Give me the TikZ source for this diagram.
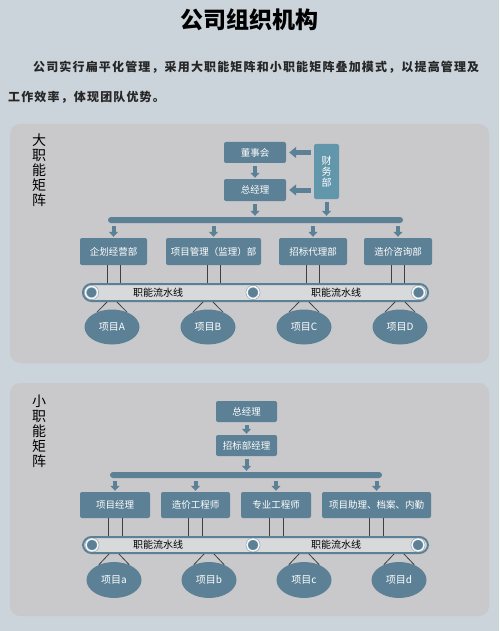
\documentclass[tikz,border=0pt]{standalone}
\usepackage{fontspec}
\setmainfont{Noto Sans CJK SC}
\usepackage{tikz}
\usetikzlibrary{calc, arrows.meta, shapes, positioning}
\definecolor{bgc}{RGB}{203, 212, 219}
\definecolor{panelc}{RGB}{201, 201, 203}
\definecolor{steel}{RGB}{92, 128, 149}
\definecolor{fincolor}{RGB}{98, 150, 171}
\definecolor{beltc}{RGB}{216, 217, 219}
\tikzset{
    titlenode/.style = {draw=none, fill=none, inner sep=0em, font=\fontsize{23}{26}\selectfont\bfseries},
    paranode/.style = {draw=none, fill=none, inner sep=0em, text=black!85,
      font=\fontsize{12}{14}\selectfont\bfseries\addfontfeature{LetterSpace=9.6}},
    sidelabel/.style = {draw=none, fill=none, inner sep=0em, align=center, font=\fontsize{14}{15}\selectfont},
    boxnode/.style = {draw=none, fill=steel, rectangle, rounded corners=2pt, text=white, inner sep=0em,
      minimum height=21pt, font=\fontsize{9.5}{11}\selectfont},
    finnode/.style = {draw=none, fill=fincolor, rectangle, rounded corners=2pt, text=white, inner sep=0em,
      minimum width=25pt, minimum height=55pt, align=center, font=\fontsize{10}{11}\selectfont},
    barnode/.style = {draw=none, fill=steel, rectangle, rounded corners=3pt, inner sep=0em, minimum height=6pt},
    beltnode/.style = {draw=steel, line width=2pt, fill=beltc, rectangle, rounded corners=8.5pt, inner sep=0em,
      minimum height=17pt},
    roller/.style = {circle, fill=steel, minimum size=12pt, inner sep=0em, draw=steel!80,
      double=white!80!beltc, double distance=1.5pt, line width=0.5pt},
    beltlabel/.style = {draw=none, fill=none, inner sep=0em, font=\fontsize{10}{12}\selectfont},
    projnode/.style = {ellipse, fill=steel, minimum width=55pt, minimum height=35pt, inner sep=0em, text=white,
      font=\fontsize{10}{12}\selectfont},
    blockarrow/.style = {steel, line width=4pt, -{Triangle[width=9pt, length=5pt]}, shorten <=3pt, shorten >=1pt},
    sidearrow/.style = {steel, line width=5pt, -{Triangle[width=11pt, length=7pt]}, shorten <=3pt, shorten >=3pt},
    link/.style = {black!75, line width=0.8pt}
}

\begin{document}
\begin{tikzpicture}[x=1pt, y=-1pt]
    \fill [bgc] (0,0) rectangle (499,631);
    \useasboundingbox (0,0) rectangle (499,631);

    \node [name=Title, titlenode] at (249.5,20) {公司组织机构};
    \node [name=Intro1, paranode, anchor=west] at (33,67) {公司实行扁平化管理，采用大职能矩阵和小职能矩阵叠加模式，以提高管理及};
    \node [name=Intro2, paranode, anchor=west] at (8,97) {工作效率，体现团队优势。};

    % big matrix
    \fill [panelc, rounded corners=10pt] (10,124) rectangle (489,363);
    \node [name=BigLabel, sidelabel] at (39,170) {大\\职\\能\\矩\\阵};

    \node [name=Board, boxnode, minimum width=62pt] at (255,152.5) {董事会};
    \node [name=GM, boxnode, minimum width=62pt, minimum height=22pt, below of=Board, node distance=37.5pt] {总经理};
    \node [name=Finance, finnode] at (326.5,171.5) {财\\务\\部};
    \draw [sidearrow] (Finance.west |- Board) -- (Board.east);
    \draw [sidearrow] (Finance.west |- GM) -- (GM.east);
    \draw [blockarrow] (Board) -- (GM);

    \node [name=Bar1, barnode, minimum width=295pt] at (255.5,220) {};
    \draw [blockarrow] (GM) -- (GM |- Bar1.north);
    \draw [blockarrow] (Finance) -- (Finance |- Bar1.north);

    \node [name=Plan, boxnode, minimum width=67pt, minimum height=27pt] at (113.5,251.5) {企划经营部};
    \node [name=Supervise, boxnode, minimum width=95pt, minimum height=27pt] at (213.5,251.5) {项目管理（监理）部};
    \node [name=Bid, boxnode, minimum width=68pt, minimum height=27pt] at (313,251.5) {招标代理部};
    \node [name=Cost, boxnode, minimum width=68pt, minimum height=27pt] at (398,251.5) {造价咨询部};
    \foreach \d in {Plan, Supervise, Bid, Cost}
        \draw [blockarrow] (Bar1.south -| \d) -- (\d);

    \node [name=Belt1, beltnode, minimum width=345pt] at (255.5,292.5) {};
    \foreach \x/\n in {91.5/1, 253/2, 418.5/3}
        \node [name=Roll1\n, roller] at (\x,292.5) {};
    \node [name=Flow11, beltlabel] at (158,293) {职能流水线};
    \node [name=Flow12, beltlabel] at (336,293) {职能流水线};
    \foreach \d in {Plan, Supervise, Bid, Cost} {
        \draw [link] ([xshift=-6.5pt]\d.south) -- ([xshift=-6.5pt]\d.south |- Belt1.north);
        \draw [link] ([xshift=6.5pt]\d.south) -- ([xshift=6.5pt]\d.south |- Belt1.north);
    }

    \node [name=ProjA, projnode] at (112,327) {项目A};
    \node [name=ProjB, projnode] at (208,327) {项目B};
    \node [name=ProjC, projnode] at (304,327) {项目C};
    \node [name=ProjD, projnode] at (400,327) {项目D};
    \foreach \p in {ProjA, ProjB, ProjC, ProjD} {
        \draw [link] (\p.135) -- ([xshift=-5pt]\p.north |- Belt1.south);
        \draw [link] (\p.45) -- ([xshift=5pt]\p.north |- Belt1.south);
    }

    % small matrix
    \fill [panelc, rounded corners=10pt] (10,383) rectangle (489,616);
    \node [name=SmallLabel, sidelabel] at (39,431) {小\\职\\能\\矩\\阵};

    \node [name=GM2, boxnode, minimum width=61pt] at (246.5,411.5) {总经理};
    \node [name=BidMgr, boxnode, minimum width=61pt, below of=GM2, node distance=34pt] {招标部经理};
    \draw [blockarrow] (GM2) -- (BidMgr);

    \node [name=Bar2, barnode, minimum width=272pt] at (246,475) {};
    \draw [blockarrow] (BidMgr) -- (BidMgr |- Bar2.north);

    \node [name=PM, boxnode, minimum width=70pt, minimum height=26pt] at (115,505) {项目经理};
    \node [name=CostEng, boxnode, minimum width=69pt, minimum height=26pt] at (195.5,505) {造价工程师};
    \node [name=SpecEng, boxnode, minimum width=70pt, minimum height=26pt] at (276,505) {专业工程师};
    \node [name=Assist, boxnode, minimum width=109pt, minimum height=26pt] at (376.5,505) {项目助理、档案、内勤};
    \foreach \d in {PM, CostEng, SpecEng, Assist}
        \draw [blockarrow] (Bar2.south -| \d) -- (\d);

    \node [name=Belt2, beltnode, minimum width=345pt, minimum height=16pt] at (255.5,545) {};
    \foreach \x/\n in {92/1, 253/2, 418/3}
        \node [name=Roll2\n, roller] at (\x,545) {};
    \node [name=Flow21, beltlabel] at (158,545) {职能流水线};
    \node [name=Flow22, beltlabel] at (336,545) {职能流水线};
    \foreach \d in {PM, CostEng, SpecEng, Assist} {
        \draw [link] ([xshift=-7pt]\d.south) -- ([xshift=-7pt]\d.south |- Belt2.north);
        \draw [link] ([xshift=7pt]\d.south) -- ([xshift=7pt]\d.south |- Belt2.north);
    }

    \node [name=Proja, projnode, minimum height=36pt] at (114,580) {项目a};
    \node [name=Projb, projnode, minimum height=36pt] at (209,580) {项目b};
    \node [name=Projc, projnode, minimum height=36pt] at (304,580) {项目c};
    \node [name=Projd, projnode, minimum height=36pt] at (399,580) {项目d};
    \foreach \p in {Proja, Projb, Projc, Projd} {
        \draw [link] (\p.135) -- ([xshift=-5pt]\p.north |- Belt2.south);
        \draw [link] (\p.45) -- ([xshift=5pt]\p.north |- Belt2.south);
    }
\end{tikzpicture}
\end{document}
